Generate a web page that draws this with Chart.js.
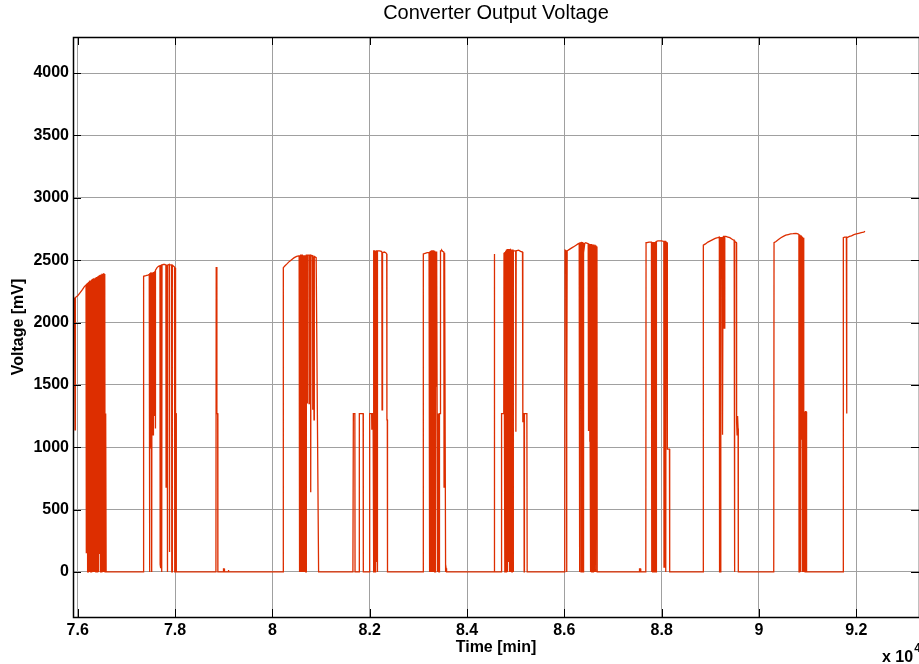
<!DOCTYPE html>
<html>
<head>
<meta charset="utf-8">
<title>Converter Output Voltage</title>
<script src="https://cdn.jsdelivr.net/npm/chart.js@4.4.1/dist/chart.umd.min.js"></script>
<style>
  html, body { margin: 0; padding: 0; background: #fff; }
  canvas { display: block; }
</style>
</head>
<body>
<canvas id="voltage-chart" width="919" height="664"></canvas>
<script>
// x ticks are in minutes, labelled in units of 10^4
const xTicks = [76000, 78000, 80000, 82000, 84000, 86000, 88000, 90000, 92000];
const xTickLabels = ['7.6', '7.8', '8', '8.2', '8.4', '8.6', '8.8', '9', '9.2'];
const yTicks = [0, 500, 1000, 1500, 2000, 2500, 3000, 3500, 4000];

// [time (min), voltage (mV)] for each burst of converter activity
const run1 = [[75903,1270],[75905,0],[75909,0],[75912,2190],[75935,2195],[75945,1140],[75952,2200],[76000,2215],[76050,2240],[76100,2265],[76140,2290],[76171,2300],[76174,150],[76180,2305],[76195,2310],[76198,0],[76204,2312],[76208,0],[76216,0],[76220,2320],[76232,2322],[76235,0],[76240,2325],[76244,20],[76250,2330],[76260,2332],[76263,0],[76268,2335],[76272,0],[76282,0],[76286,2340],[76300,2340],[76304,0],[76312,2345],[76322,2348],[76325,0],[76330,2350],[76334,0],[76340,2350],[76352,2355],[76355,0],[76362,2358],[76370,2360],[76374,0],[76380,0],[76384,2360],[76395,2365],[76398,0],[76404,2366],[76412,2368],[76415,0],[76420,2370],[76424,0],[76430,2370],[76436,2375],[76440,150],[76446,2375],[76458,2378],[76461,0],[76468,2378],[76475,2380],[76478,0],[76492,0],[76496,2385],[76510,2385],[76513,0],[76520,2385],[76530,2388],[76533,0],[76538,2390],[76548,2388],[76551,0],[76556,2382],[76560,2380],[76563,0],[76570,0],[76574,1270],[76580,1270],[76584,0]];
const run2 = [[77342,0],[77348,2360],[77360,2370],[77400,2375],[77440,2380],[77470,2385],[77473,0],[77480,0],[77484,2390],[77496,2395],[77499,990],[77504,2395],[77514,2395],[77517,0],[77523,0],[77527,2400],[77540,2400],[77544,1640],[77550,1100],[77556,2400],[77570,2400],[77574,1250],[77580,2405],[77592,2410],[77595,1150],[77600,2420],[77630,2440],[77660,2450],[77690,2455],[77694,60],[77702,30],[77708,2455],[77722,2460],[77726,0],[77732,2460],[77760,2465],[77790,2465],[77812,2460],[77816,680],[77822,2460],[77838,2460],[77841,0],[77848,2460],[77880,2465],[77884,160],[77890,2465],[77930,2460],[77933,0],[77940,0],[77944,2460],[77990,2445],[77994,0],[78000,0],[78004,2440],[78012,2430],[78015,1270],[78022,1270],[78026,0]];
const spike1 = [[78840,0],[78846,2445],[78858,2445],[78862,1270],[78876,1270],[78880,0],[78990,0],[78996,25],[79010,25],[79016,0],[79090,0],[79095,15],[79105,0]];
const run3 = [[80220,0],[80225,2440],[80260,2455],[80300,2470],[80350,2490],[80400,2505],[80450,2520],[80500,2530],[80540,2535],[80550,2535],[80553,0],[80560,0],[80564,2535],[80572,2535],[80575,0],[80582,0],[80586,2540],[80594,2540],[80597,0],[80604,0],[80608,2540],[80616,2540],[80619,0],[80626,0],[80630,2540],[80638,2540],[80641,0],[80648,0],[80652,2540],[80660,2540],[80663,0],[80670,0],[80674,2540],[80684,2540],[80687,0],[80694,0],[80698,2540],[80712,2540],[80716,1350],[80722,2540],[80750,2540],[80754,1350],[80760,2540],[80784,2540],[80788,640],[80794,2540],[80826,2535],[80830,1300],[80836,2530],[80852,2530],[80856,1220],[80862,2530],[80900,2520],[80950,0]];
const run4 = [[81655,0],[81664,1270],[81695,1270],[81699,0],[81783,0],[81787,1270],[81865,1270],[81869,0],[81995,0],[82000,1270],[82040,1270],[82044,1140],[82050,1270],[82070,1270],[82075,2580],[82084,2580],[82087,0],[82093,0],[82097,2580],[82104,2580],[82107,0],[82112,0],[82116,2575],[82122,2575],[82125,680],[82130,2575],[82138,2575],[82141,80],[82146,2575],[82154,2575],[82157,0],[82162,2575],[82200,2575],[82240,2570],[82250,2565],[82254,1300],[82262,1300],[82266,2560],[82300,2565],[82330,2560],[82350,2550],[82354,1220],[82362,1220],[82366,0]];
const run5 = [[83097,0],[83102,2550],[83140,2555],[83180,2560],[83220,2560],[83225,0],[83232,0],[83236,2565],[83244,2565],[83247,0],[83254,0],[83258,2570],[83266,2570],[83269,0],[83276,0],[83280,2575],[83288,2575],[83291,0],[83298,0],[83302,2580],[83310,2580],[83313,0],[83320,0],[83324,2575],[83334,2575],[83337,0],[83344,0],[83348,2570],[83360,2570],[83364,1490],[83370,2570],[83382,2570],[83386,1270],[83392,1270],[83396,0],[83402,0],[83406,1270],[83420,1270],[83424,0],[83430,0],[83434,1270],[83450,1270],[83455,2575],[83470,2575],[83480,2580],[83500,2570],[83524,2565],[83528,680],[83534,2560],[83545,2555],[83560,0],[83570,30],[83580,0]];
const spike2 = [[84555,0],[84559,2550],[84565,2550],[84569,0]];
const run6 = [[84705,0],[84710,1270],[84755,1270],[84760,2560],[84775,2565],[84779,0],[84786,0],[84790,2570],[84800,2575],[84803,0],[84810,0],[84814,2580],[84822,2580],[84825,0],[84832,0],[84836,2585],[84846,2585],[84849,80],[84856,2585],[84866,2585],[84869,0],[84876,0],[84880,2580],[84890,2585],[84893,0],[84900,0],[84904,2585],[84918,2580],[84921,0],[84928,0],[84932,2580],[84945,2580],[84948,0],[84955,2575],[85000,2575],[85004,1125],[85010,2575],[85060,2580],[85100,2570],[85140,2565],[85144,1200],[85150,1270],[85170,1270],[85174,0],[85180,1270],[85230,1270],[85236,0]];
const run7 = [[86008,0],[86014,2580],[86040,2575],[86046,0],[86052,1270],[86058,2575],[86080,2580],[86120,2590],[86160,2600],[86200,2610],[86240,2620],[86280,2630],[86305,2635],[86308,0],[86316,0],[86320,2635],[86340,2640],[86344,0],[86352,0],[86356,2640],[86375,2640],[86378,0],[86385,0],[86390,2640],[86400,2560],[86420,2635],[86440,2640],[86470,2635],[86490,2630],[86494,1130],[86500,2630],[86520,2625],[86524,1050],[86530,1050],[86534,0],[86540,0],[86544,2625],[86560,2625],[86563,0],[86570,0],[86574,2625],[86584,2625],[86587,0],[86594,0],[86598,2620],[86610,2620],[86613,0],[86620,0],[86624,2615],[86640,2615],[86643,0],[86650,0],[86654,2610],[86670,2600],[86675,0]];
const run8 = [[87540,0],[87545,25],[87565,25],[87570,0],[87674,0],[87679,2640],[87700,2640],[87740,2645],[87790,2645],[87794,0],[87800,0],[87804,2645],[87812,2645],[87815,0],[87822,0],[87826,2645],[87834,2645],[87837,0],[87844,0],[87848,2645],[87856,2645],[87859,0],[87866,0],[87870,2650],[87878,2650],[87881,0],[87888,0],[87892,2650],[87920,2655],[87960,2655],[88000,2655],[88044,2650],[88048,40],[88056,40],[88060,2650],[88080,2650],[88084,0],[88090,2645],[88110,2640],[88114,2630],[88120,985],[88160,985],[88165,0]];
const run9 = [[88850,0],[88856,2620],[88900,2630],[88950,2645],[89000,2655],[89050,2665],[89100,2675],[89150,2680],[89185,2685],[89190,0],[89210,0],[89215,2680],[89240,2680],[89244,1150],[89252,1200],[89256,1100],[89262,2690],[89270,2690],[89274,1950],[89280,2690],[89290,2690],[89294,1950],[89300,2690],[89320,2690],[89360,2685],[89400,2680],[89440,2670],[89480,2660],[89490,2660],[89494,0],[89500,0],[89504,2650],[89520,2645],[89536,2640],[89540,1200],[89550,1100],[89560,1250],[89570,1150],[89575,0]];
const run10 = [[90303,0],[90309,2640],[90350,2650],[90400,2665],[90450,2680],[90500,2690],[90550,2700],[90600,2705],[90650,2710],[90700,2712],[90760,2715],[90800,2710],[90820,2705],[90823,0],[90828,2705],[90836,2700],[90839,0],[90844,2700],[90852,2698],[90855,0],[90860,2695],[90868,2690],[90871,1060],[90876,2690],[90884,2685],[90887,0],[90892,2685],[90900,2680],[90903,0],[90908,2680],[90918,2675],[90921,0],[90926,1285],[90934,0],[90940,1285],[90948,0],[90954,1285],[90966,1285],[90969,0],[90974,1285],[90982,1285],[90986,0]];
const run11 = [[91727,0],[91733,2680],[91760,2685],[91795,2685],[91800,1270],[91806,2680],[91830,2685],[91860,2690],[91900,2695],[91950,2705],[92000,2710],[92050,2715],[92100,2720],[92150,2725],[92180,2730]];

const runs = [run1, run2, spike1, run3, run4, run5, spike2, run6, run7, run8, run9, run10, run11];
const points = runs.flat().map(([t, v]) => ({ x: t, y: v }));

const FONT = '"Liberation Sans", Arial, sans-serif';

// MATLAB-style box, inward ticks on all four sides and the x10^4 multiplier
const axesBox = {
  id: 'axesBox',
  afterDatasetsDraw(chart) {
    const { ctx, chartArea: a, scales: { x, y } } = chart;
    const len = 8;
    ctx.save();
    ctx.strokeStyle = '#000';
    ctx.lineWidth = 1;
    ctx.beginPath();
    xTicks.forEach(v => {
      const px = Math.round(x.getPixelForValue(v)) + 0.5;
      ctx.moveTo(px, a.bottom); ctx.lineTo(px, a.bottom - len);
      ctx.moveTo(px, a.top); ctx.lineTo(px, a.top + len);
    });
    yTicks.forEach(v => {
      const py = Math.round(y.getPixelForValue(v)) + 0.5;
      ctx.moveTo(a.left, py); ctx.lineTo(a.left + len, py);
      ctx.moveTo(a.right, py); ctx.lineTo(a.right - len, py);
    });
    ctx.stroke();
    ctx.lineWidth = 1.5;
    ctx.strokeRect(Math.round(a.left) + 0.5, Math.round(a.top) + 0.5,
      Math.round(a.right - a.left), Math.round(a.bottom - a.top));
    ctx.restore();
  },
  afterDraw(chart) {
    const { ctx } = chart;
    ctx.save();
    ctx.fillStyle = '#000';
    ctx.textBaseline = 'alphabetic';
    ctx.font = 'bold 16px ' + FONT;
    ctx.fillText('x 10', 882, 662);
    const w = ctx.measureText('x 10').width;
    ctx.font = 'bold 12px ' + FONT;
    ctx.fillText('4', 882 + w + 1, 652);
    ctx.restore();
  }
};

new Chart(document.getElementById('voltage-chart'), {
  type: 'scatter',
  data: {
    datasets: [{
      data: points,
      showLine: true,
      borderColor: '#dd2e00',
      borderWidth: 1.3,
      pointRadius: 0,
      tension: 0
    }]
  },
  options: {
    responsive: false,
    devicePixelRatio: 1,
    animation: false,
    layout: { padding: 0 },
    plugins: {
      legend: { display: false },
      tooltip: { enabled: false },
      title: {
        display: true,
        fullSize: false,
        text: 'Converter Output Voltage',
        color: '#000',
        font: { family: FONT, size: 20, weight: 'normal' },
        padding: { top: 1, bottom: 12 }
      }
    },
    scales: {
      x: {
        type: 'linear',
        min: 75903,
        max: 93288,
        afterBuildTicks: s => { s.ticks = xTicks.map(v => ({ value: v })); },
        afterFit: s => { s.height = 47; },
        grid: { color: '#a0a0a0', drawTicks: false },
        border: { display: false },
        ticks: {
          autoSkip: false,
          maxRotation: 0,
          padding: 4,
          color: '#000',
          font: { family: FONT, size: 16, weight: 'bold' },
          callback: (v, i) => xTickLabels[i]
        },
        title: {
          display: true,
          text: 'Time [min]',
          color: '#000',
          font: { family: FONT, size: 16, weight: 'bold' },
          padding: { top: 0, bottom: 6.4 }
        }
      },
      y: {
        min: -361,
        max: 4289,
        afterBuildTicks: s => { s.ticks = yTicks.map(v => ({ value: v })); },
        afterFit: s => { s.width = 73; },
        grid: { color: '#a0a0a0', drawTicks: false },
        border: { display: false },
        ticks: {
          padding: 4,
          color: '#000',
          font: { family: FONT, size: 16, weight: 'bold' },
          callback: v => String(v)
        },
        title: {
          display: true,
          text: 'Voltage [mV]',
          color: '#000',
          font: { family: FONT, size: 16, weight: 'bold' },
          padding: { top: 9, bottom: 0 }
        }
      }
    }
  },
  plugins: [axesBox]
});
</script>
</body>
</html>
